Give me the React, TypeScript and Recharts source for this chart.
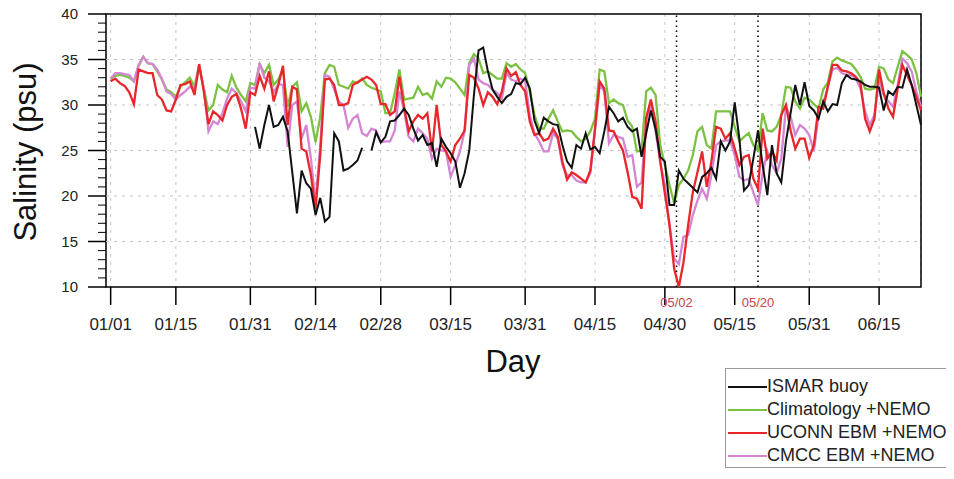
import { LineChart, Line, XAxis, YAxis, CartesianGrid, ReferenceLine, ReferenceArea } from "recharts";

// day of year, 1 = Jan 1
const dateTicks = [1, 15, 31, 45, 59, 74, 90, 105, 120, 135, 151, 166];
const dateLabels = ["01/01", "01/15", "01/31", "02/14", "02/28", "03/15", "03/31", "04/15", "04/30", "05/15", "05/31", "06/15"];
// event markers (fractional day of year)
const eventDays = [122.5, 140];
const eventLabels = ["05/02", "05/20"];
const salinityTicks = [10, 15, 20, 25, 30, 35, 40];
const minorTicks = Array.from({ length: 31 }, (_, i) => 10 + i);

// daily salinity (psu) from Jan 1
const climatology = [
  32.9, 33.2, 33.3, 33.2, 33.0, 32.6, 34.3, 35.3, 34.6, 34.5,
  33.7, 32.8, 31.7, 31.4, 30.9, 32.0, 32.5, 33.0, 32.0, 34.4,
  31.8, 29.4, 30.0, 32.2, 31.7, 31.4, 33.2, 31.9, 31.1, 30.4,
  32.4, 32.2, 34.5, 33.5, 34.4, 32.2, 32.8, 33.9, 29.8, 32.0,
  32.5, 29.3, 30.2, 28.7, 25.9, 28.7, 33.5, 34.4, 34.2, 32.2,
  32.0, 31.8, 32.6, 32.4, 32.9, 32.2, 31.9, 31.7, 31.5, 29.1,
  29.1, 31.3, 33.9, 30.6, 30.7, 30.8, 32.0, 31.1, 31.3, 30.7,
  32.6, 32.0, 33.0, 32.9, 32.5, 31.8, 31.1, 34.6, 35.6, 35.1,
  33.5, 33.7, 33.3, 32.9, 32.9, 34.6, 34.2, 34.5, 33.9, 33.5,
  31.5, 28.9, 27.4, 27.4, 28.5, 29.4, 28.2, 27.1, 27.2, 27.1,
  26.5, 26.0, 26.3, 27.1, 28.5, 33.9, 33.7, 30.2, 30.6, 30.2,
  30.0, 28.3, 27.6, 24.9, 25.0, 31.5, 31.9, 31.1, 25.6, 23.4,
  21.2, 19.2, 21.2, 21.9, 22.8, 24.5, 27.1, 27.6, 25.6, 25.2,
  29.3, 29.3, 29.3, 29.3, 27.6, 26.0, 26.5, 26.9, 25.6, 25.0,
  29.1, 27.2, 27.1, 27.6, 28.9, 32.0, 31.9, 30.4, 29.6, 30.8,
  30.6, 30.1, 29.6, 31.7, 32.5, 34.8, 35.2, 34.9, 34.7, 34.5,
  33.9, 33.1, 31.8, 31.7, 31.8, 34.2, 34.0, 32.8, 32.4, 34.2,
  35.9, 35.5, 35.0, 33.5, 30.9,
];

const uconn = [
  32.6, 32.9, 32.4, 32.1, 31.4, 30.1, 33.9, 33.7, 33.5, 33.5,
  31.1, 30.6, 29.4, 29.3, 30.6, 32.2, 32.3, 32.6, 31.1, 34.5,
  31.5, 27.9, 29.3, 28.9, 28.3, 30.0, 30.9, 31.2, 29.6, 27.4,
  31.4, 31.1, 33.2, 31.8, 33.7, 30.4, 32.2, 34.3, 27.8, 32.0,
  31.7, 25.2, 24.9, 22.3, 18.6, 24.5, 32.8, 32.9, 32.2, 30.0,
  30.0, 30.2, 32.2, 32.5, 32.8, 33.1, 32.8, 32.2, 30.1, 30.1,
  28.9, 29.3, 33.1, 29.8, 27.1, 28.2, 28.9, 28.5, 29.1, 24.9,
  30.0, 25.6, 24.9, 23.8, 25.6, 26.3, 27.2, 33.3, 33.0, 31.8,
  30.0, 31.4, 30.9, 30.1, 31.5, 34.0, 33.2, 33.6, 32.2, 31.5,
  28.2, 26.7, 26.9, 26.1, 26.3, 27.4, 26.5, 23.8, 21.8, 22.6,
  22.3, 21.9, 21.5, 22.8, 27.4, 32.6, 31.8, 27.2, 27.1, 26.0,
  25.0, 22.6, 19.9, 19.7, 18.6, 28.6, 30.6, 28.2, 23.8, 20.3,
  16.8, 12.0, 10.0, 12.7, 16.8, 20.4, 22.6, 24.9, 21.0, 23.8,
  27.6, 27.4, 26.3, 26.9, 25.2, 23.4, 24.3, 24.5, 21.9, 20.8,
  27.4, 24.1, 24.9, 23.9, 28.9, 30.0, 27.2, 25.2, 26.3, 26.3,
  24.2, 25.6, 29.8, 29.6, 32.0, 34.4, 34.4, 33.8, 33.7, 33.5,
  33.1, 32.4, 28.5, 27.1, 28.5, 33.9, 31.3, 29.6, 28.7, 31.8,
  34.4, 33.3, 32.2, 30.9, 29.4,
];

const cmcc = [
  32.9, 33.5, 33.5, 33.4, 33.3, 32.6, 34.4, 35.3, 34.6, 34.5,
  33.9, 32.9, 31.5, 31.2, 30.6, 31.1, 31.5, 32.0, 31.8, 34.2,
  31.8, 27.1, 28.2, 27.9, 29.1, 30.7, 31.8, 31.3, 30.4, 29.3,
  31.9, 31.8, 34.6, 33.0, 32.6, 31.4, 32.3, 32.2, 25.4, 30.0,
  30.4, 26.3, 27.8, 24.1, 19.3, 25.6, 33.3, 33.1, 31.7, 30.4,
  30.0, 27.5, 28.5, 28.9, 26.9, 26.6, 27.4, 27.2, 25.9, 26.0,
  26.0, 27.2, 31.5, 29.4, 26.5, 26.0, 27.4, 26.9, 26.3, 24.1,
  25.2, 25.0, 24.9, 22.1, 23.4, 24.9, 27.1, 34.4, 35.1, 32.8,
  32.4, 32.2, 31.7, 31.3, 30.7, 33.5, 32.8, 32.6, 32.9, 32.6,
  28.9, 26.9, 26.0, 24.9, 24.9, 26.9, 26.3, 23.4, 22.3, 22.3,
  21.7, 21.5, 21.5, 22.5, 27.1, 32.2, 31.5, 25.8, 26.7, 26.5,
  26.3, 24.3, 24.5, 21.0, 21.5, 28.3, 30.0, 27.1, 23.8, 21.2,
  16.8, 13.1, 12.5, 15.5, 15.7, 17.9, 19.5, 20.8, 19.7, 22.3,
  25.6, 26.0, 26.1, 26.1, 24.5, 22.1, 21.7, 21.9, 20.4, 19.0,
  22.5, 24.9, 23.4, 22.5, 24.1, 29.8, 28.7, 26.7, 27.8, 27.4,
  26.7, 24.9, 28.9, 30.2, 32.0, 33.9, 34.1, 33.5, 33.3, 33.3,
  32.9, 31.8, 29.3, 27.8, 28.9, 32.8, 31.1, 30.4, 29.8, 32.2,
  35.1, 34.6, 33.7, 31.5, 29.8,
];

// buoy record starts on Feb 1; null = missing day
const ismarStart = 32;
const ismar = [
  27.6, 25.2, 27.8, 30.0, 27.6, 27.8, 28.7, 27.1, 22.6, 18.1,
  22.8, 21.4, 20.8, 17.9, 19.8, 17.2, 17.7, 26.9, 26.0, 22.8,
  23.0, 23.4, 23.9, 25.3, null, 25.0, 27.0, 25.9, 26.5, 28.2,
  28.3, 28.9, 29.6, 28.9, 27.4, 26.1, 26.7, 25.6, 25.8, 23.2,
  26.3, 25.4, 24.7, 23.8, 20.9, 22.5, 25.0, 31.1, 36.0, 36.3,
  33.7, 31.7, 30.9, 30.2, 30.9, 31.2, 32.4, 32.3, 33.0, 31.8,
  28.3, 26.9, 28.6, 28.2, 27.9, 27.8, 25.6, 23.8, 23.1, 25.6,
  25.2, 26.9, 25.1, 25.4, 24.7, 27.1, 29.8, 29.1, 28.2, 28.6,
  27.6, 27.1, 27.4, 24.3, 26.9, 29.4, 27.4, 24.3, 23.8, 19.0,
  19.0, 22.8, 21.9, 21.4, 20.9, 20.4, 22.1, 22.5, 23.1, 21.9,
  26.0, 25.0, 26.0, 30.3, 26.3, 20.6, 21.2, 24.1, 27.2, 23.4,
  20.1, 25.6, 22.5, 21.5, 26.0, 29.1, 32.2, 30.0, 32.5, 29.9,
  29.4, 28.5, 30.4, 29.3, 30.1, 30.0, 32.4, 33.3, 32.9, 32.8,
  32.6, 32.2, 32.0, 32.0, 31.9, 29.4, 31.5, 31.1, 32.0, 31.9,
  33.9, 32.2, 30.0, 27.8,
];

const series = [
  { key: "ismar", name: "ISMAR buoy", color: "#111111" },
  { key: "clim", name: "Climatology +NEMO", color: "#7cc242" },
  { key: "uconn", name: "UCONN EBM +NEMO", color: "#e8262b" },
  { key: "cmcc", name: "CMCC EBM +NEMO", color: "#d486d4" },
];
// drawing order: models underneath, buoy on top
const drawOrder = ["clim", "cmcc", "uconn", "ismar"];

const rows = climatology.map((v, i) => {
  const day = i + 1;
  const k = day - ismarStart;
  return {
    day,
    clim: v,
    uconn: uconn[i],
    cmcc: cmcc[i],
    ismar: k >= 0 && k < ismar.length ? ismar[k] : null,
  };
});

const FONT = "'Liberation Sans', Arial, Helvetica, sans-serif";

// y ticks every 1 psu: long labelled tick on multiples of 5, short one otherwise
function SalinityTick(props: any) {
  const { x, y, payload } = props;
  const major = salinityTicks.includes(payload.value);
  return (
    <g>
      <line x1={x - (major ? 18 : 8)} x2={x} y1={y} y2={y} stroke="#000" strokeWidth={major ? 1.5 : 1} />
      {major && (
        <text x={x - 28} y={y} dy="0.35em" textAnchor="end" fontSize={15} fill="#222">
          {payload.value}
        </text>
      )}
    </g>
  );
}

export default function App() {
  return (
    <div style={{ position: "relative", width: 954, height: 479, margin: -8, fontFamily: FONT, background: "#fff" }}>
      <LineChart
        width={954}
        height={479}
        data={rows}
        margin={{ top: 14, right: 33, bottom: 190, left: 105 }}
        style={{ fontFamily: FONT }}
      >
        <CartesianGrid stroke="#c4c4c4" strokeDasharray="3 5" horizontal={false} />
        {salinityTicks.slice(1, -1).map((v) => (
          <ReferenceLine key={v} y={v} stroke="#c4c4c4" strokeDasharray="3 5" />
        ))}
        <XAxis
          dataKey="day"
          type="number"
          domain={[0, 175]}
          ticks={dateTicks}
          interval={0}
          tickFormatter={(d) => dateLabels[dateTicks.indexOf(d)]}
          height={1}
          tickSize={18}
          tickMargin={13}
          axisLine={false}
          tickLine={{ stroke: "#000", strokeWidth: 1.5 }}
          tick={{ fill: "#222", fontSize: 17 }}
        />
        <XAxis
          xAxisId="ev"
          dataKey="day"
          type="number"
          domain={[0, 175]}
          ticks={eventDays}
          interval={0}
          tickFormatter={(d) => eventLabels[eventDays.indexOf(d)]}
          height={1}
          tickSize={0}
          tickMargin={10}
          axisLine={false}
          tickLine={false}
          tick={{ fill: "#c6444c", fontSize: 13 }}
        />
        <YAxis
          domain={[10, 40]}
          ticks={minorTicks}
          interval={0}
          width={1}
          tickSize={0}
          tickMargin={0}
          axisLine={false}
          tickLine={false}
          tick={<SalinityTick />}
        />
        {eventDays.map((d) => (
          <ReferenceLine key={d} x={d} stroke="#000" strokeWidth={1.5} strokeDasharray="1.5 3.5" />
        ))}
        {drawOrder.map((k) => {
          const s = series.find((x) => x.key === k)!;
          return (
            <Line
              key={k}
              dataKey={k}
              name={s.name}
              stroke={s.color}
              strokeWidth={k === "ismar" ? 2 : 2.3}
              dot={false}
              connectNulls={false}
              isAnimationActive={false}
            />
          );
        })}
        <ReferenceArea x1={0} x2={175} y1={10} y2={40} fill="none" stroke="#000" strokeWidth={1.5} ifOverflow="visible" />
      </LineChart>

      <div
        style={{
          position: "absolute",
          left: 26,
          top: 152,
          transform: "translate(-50%, -50%) rotate(-90deg)",
          fontSize: 31,
          whiteSpace: "nowrap",
          color: "#111",
        }}
      >
        Salinity (psu)
      </div>
      <div
        style={{
          position: "absolute",
          left: 513,
          top: 362,
          transform: "translate(-50%, -50%)",
          fontSize: 31,
          color: "#111",
        }}
      >
        Day
      </div>

      <div
        style={{
          position: "absolute",
          left: 725,
          top: 368,
          width: 225,
          height: 100,
          border: "1px solid #999",
          boxSizing: "border-box",
        }}
      >
        {series.map((s, i) => (
          <div
            key={s.key}
            style={{ position: "absolute", left: 2, top: 5.5 + i * 23, height: 24, display: "flex", alignItems: "center" }}
          >
            <div style={{ width: 39, height: 2, background: s.color }} />
            <span style={{ fontSize: 18, color: "#222", whiteSpace: "nowrap" }}>{s.name}</span>
          </div>
        ))}
      </div>
    </div>
  );
}
